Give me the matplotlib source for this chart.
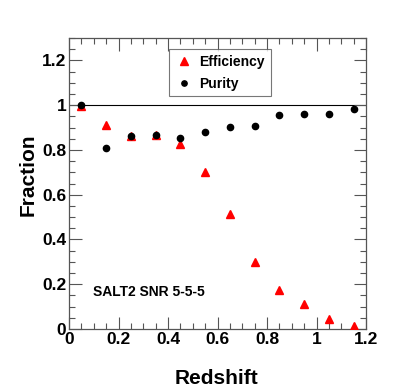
import matplotlib
matplotlib.use('Agg')
import matplotlib.pyplot as plt
import numpy as np
from matplotlib.ticker import MultipleLocator

plt.rcParams['font.family'] = ['Liberation Sans', 'DejaVu Sans']
plt.rcParams['font.weight'] = 'bold'

# bin centres in redshift
redshift = [0.05, 0.15, 0.25, 0.35, 0.45, 0.55, 0.65, 0.75, 0.85, 0.95, 1.05, 1.15]
efficiency = [0.995, 0.913, 0.861, 0.865, 0.825, 0.700, 0.514, 0.300, 0.175, 0.113, 0.046, 0.013]
purity = [1.0, 0.810, 0.862, 0.867, 0.853, 0.882, 0.903, 0.909, 0.958, 0.961, 0.961, 0.983]

fig = plt.figure(figsize=(4.07, 3.87), dpi=100)
ax = fig.add_axes([69 / 407, 1 - 329 / 387, 297 / 407, 291 / 387])

ax.axhline(1.0, color='black', lw=0.8, zorder=1)
ax.plot(redshift, efficiency, linestyle='none', marker='^', color='red',
        markersize=6, label='Efficiency', zorder=3)
ax.plot(redshift, purity, linestyle='none', marker='o', color='black',
        markersize=4.5, label='Purity', zorder=4)

ax.set_xlim(0, 1.2)
ax.set_ylim(0, 1.3)
ax.xaxis.set_major_locator(MultipleLocator(0.2))
ax.xaxis.set_minor_locator(MultipleLocator(0.05))
ax.yaxis.set_major_locator(MultipleLocator(0.2))
ax.yaxis.set_minor_locator(MultipleLocator(0.05))
ax.tick_params(which='both', direction='in', top=True, right=True,
               color='#555555', labelsize=12.5)
ax.tick_params(which='major', length=9, width=0.8)
ax.tick_params(which='minor', length=4.5, width=0.8)
ax.tick_params(axis='x', pad=2)
ax.tick_params(axis='y', pad=2)
for s in ax.spines.values():
    s.set_color('#555555')
    s.set_linewidth(0.9)

def fmt(v, pos):
    return ('%.1f' % v).rstrip('0').rstrip('.') if v != 0 else '0'
ax.xaxis.set_major_formatter(plt.FuncFormatter(fmt))
ax.yaxis.set_major_formatter(plt.FuncFormatter(fmt))
for lab in ax.get_xticklabels() + ax.get_yticklabels():
    lab.set_fontweight('bold')

fig.text(217 / 407, 1 - 378 / 387, 'Redshift', ha='center', va='center',
         fontsize=15, fontweight='bold')
fig.text(28 / 407, 1 - 175 / 387, 'Fraction', ha='center', va='center',
         fontsize=15, fontweight='bold', rotation=90)

ax.text(0.095, 0.165, 'SALT2 SNR 5-5-5', transform=ax.transData,
        ha='left', va='center', fontsize=10, fontweight='bold')

leg = ax.legend(loc='upper left', bbox_to_anchor=(100 / 297, 1 - 11 / 291),
                frameon=True, fancybox=False, edgecolor='#555555',
                prop={'family': 'Liberation Sans', 'weight': 'bold', 'size': 10},
                handletextpad=0.5, borderpad=0.4, labelspacing=0.6,
                handlelength=1.3, markerscale=0.85, borderaxespad=0)
leg.get_frame().set_linewidth(0.8)

fig.savefig('out.png', dpi=100)
